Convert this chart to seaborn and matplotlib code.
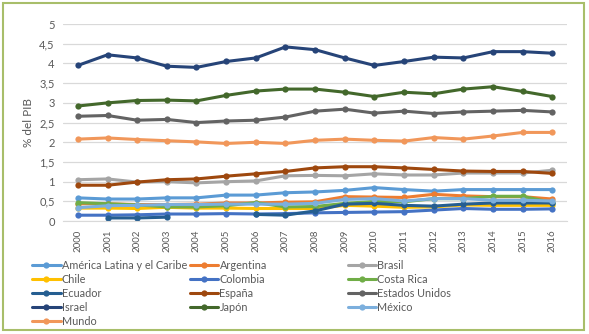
import numpy as np
import pandas as pd
import matplotlib
matplotlib.use("Agg")
import matplotlib.pyplot as plt
import seaborn as sns
from matplotlib.lines import Line2D
from matplotlib.patches import Rectangle

# Datos (% del PIB)
anios = list(range(2000, 2017))
america_latina = [0.59, 0.56, 0.56, 0.59, 0.59, 0.66, 0.66, 0.72, 0.74, 0.78, 0.85, 0.80, 0.76, 0.80, 0.80, 0.80, 0.80]
argentina = [0.44, 0.44, 0.42, 0.42, 0.43, 0.46, 0.46, 0.48, 0.49, 0.62, 0.61, 0.60, 0.68, 0.64, 0.62, 0.62, 0.56]
brasil = [1.05, 1.07, 0.99, 1.00, 0.97, 1.00, 1.02, 1.15, 1.16, 1.15, 1.20, 1.17, 1.17, 1.22, 1.22, 1.22, 1.29]
chile = [0.33, 0.33, 0.32, 0.35, 0.33, 0.33, 0.32, 0.32, 0.32, 0.40, 0.38, 0.35, 0.36, 0.41, 0.40, 0.40, 0.40]
colombia = [0.15, 0.15, 0.16, 0.18, 0.18, 0.19, 0.18, 0.19, 0.21, 0.22, 0.23, 0.24, 0.28, 0.32, 0.30, 0.30, 0.31]
costa_rica = [0.47, 0.44, 0.41, 0.36, 0.36, 0.39, 0.47, 0.36, 0.37, 0.45, 0.50, 0.49, 0.57, 0.57, 0.63, 0.63, 0.47]
ecuador = [np.nan, 0.08, 0.08, 0.10, np.nan, np.nan, 0.17, 0.15, 0.26, 0.43, 0.45, 0.40, 0.38, 0.43, 0.46, 0.46, 0.46]
espana = [0.91, 0.91, 0.99, 1.05, 1.07, 1.14, 1.20, 1.26, 1.35, 1.38, 1.38, 1.35, 1.31, 1.27, 1.26, 1.26, 1.21]
estados_unidos = [2.66, 2.68, 2.56, 2.58, 2.50, 2.54, 2.56, 2.64, 2.79, 2.84, 2.74, 2.79, 2.73, 2.77, 2.79, 2.81, 2.77]
israel = [3.95, 4.22, 4.14, 3.93, 3.90, 4.05, 4.14, 4.42, 4.35, 4.14, 3.95, 4.05, 4.16, 4.14, 4.30, 4.30, 4.26]
japon = [2.92, 3.00, 3.06, 3.07, 3.05, 3.19, 3.30, 3.35, 3.35, 3.27, 3.16, 3.27, 3.23, 3.35, 3.41, 3.29, 3.16]
mexico = [0.34, 0.39, 0.40, 0.42, 0.42, 0.43, 0.43, 0.43, 0.45, 0.55, 0.57, 0.51, 0.57, 0.57, 0.53, 0.53, 0.51]
mundo = [2.08, 2.11, 2.07, 2.04, 2.01, 1.97, 2.00, 1.97, 2.05, 2.08, 2.05, 2.03, 2.12, 2.08, 2.16, 2.25, 2.25]

series = {
    "América Latina y el Caribe": america_latina,
    "Argentina": argentina,
    "Brasil": brasil,
    "Chile": chile,
    "Colombia": colombia,
    "Costa Rica": costa_rica,
    "Ecuador": ecuador,
    "España": espana,
    "Estados Unidos": estados_unidos,
    "Israel": israel,
    "Japón": japon,
    "México": mexico,
    "Mundo": mundo,
}
colores = ["#5B9BD5", "#ED7D31", "#A5A5A5", "#FFC000", "#4472C4", "#70AD47",
           "#255E91", "#9E480E", "#636363", "#264478", "#43682B", "#7CAFDD", "#F1975A"]
paleta = dict(zip(series.keys(), colores))

# Tabla larga; los tramos separan los huecos (Ecuador)
filas = []
for pais, valores in series.items():
    tramo = 0
    for anio, v in zip(anios, valores):
        if np.isnan(v):
            tramo += 1
            continue
        filas.append({"pais": pais, "anio": anio, "valor": v, "tramo": f"{pais}-{tramo}"})
df = pd.DataFrame(filas)

sns.set_style("white")
plt.rcParams["font.family"] = ["Lato", "DejaVu Sans"]
gris = "#595959"

fig = plt.figure(figsize=(5.89, 3.34), dpi=100)
ax = fig.add_axes([0.107, 0.338, 0.856, 0.59])

sns.lineplot(data=df, x="anio", y="valor", hue="pais", units="tramo", estimator=None,
             palette=paleta, hue_order=list(series.keys()), marker="o", markersize=4.5,
             markeredgewidth=0, linewidth=2.2, legend=False, ax=ax, sort=True)

ax.set_xlim(1999.5, 2016.5)
ax.set_ylim(0, 5)
ax.set_xticks(anios)
ax.set_xticklabels([str(a) for a in anios], rotation=90, fontsize=7, color=gris)
ax.set_yticks(np.arange(0, 5.01, 0.5))
ax.set_yticklabels([f"{t:g}".replace(".", ",") for t in np.arange(0, 5.01, 0.5)], fontsize=8, color=gris)
ax.tick_params(axis="x", length=0, pad=6)
ax.tick_params(axis="y", length=0, pad=6)
ax.grid(axis="y", color="#D9D9D9", linewidth=0.9)
ax.set_axisbelow(True)
for lado in ["top", "right", "left"]:
    ax.spines[lado].set_visible(False)
ax.spines["bottom"].set_color("#D9D9D9")
ax.set_xlabel("")
ax.set_ylabel("% del PIB", fontsize=8.5, color=gris)

# Leyenda en tres columnas de igual ancho
nombres = list(series.keys())
columnas = [nombres[0::3], nombres[1::3], nombres[2::3]]
x_cols = [0.055, 0.323, 0.590]
for xc, col in zip(x_cols, columnas):
    handles = [Line2D([], [], color=paleta[n], linewidth=2.2, marker="o", markersize=4.5,
                      markeredgewidth=0) for n in col]
    fig.legend(handles, col, loc="upper left", bbox_to_anchor=(xc, 0.222), frameon=False,
               fontsize=7.8, labelcolor=gris, handlelength=2.6, handletextpad=0.1,
               labelspacing=0.28, borderaxespad=0, borderpad=0)

fig.patches.append(Rectangle((0.005, 0.012), 0.987, 0.978, transform=fig.transFigure,
                             fill=False, edgecolor="#A8BE6A", linewidth=1.5))

fig.savefig("out.png", dpi=100)
